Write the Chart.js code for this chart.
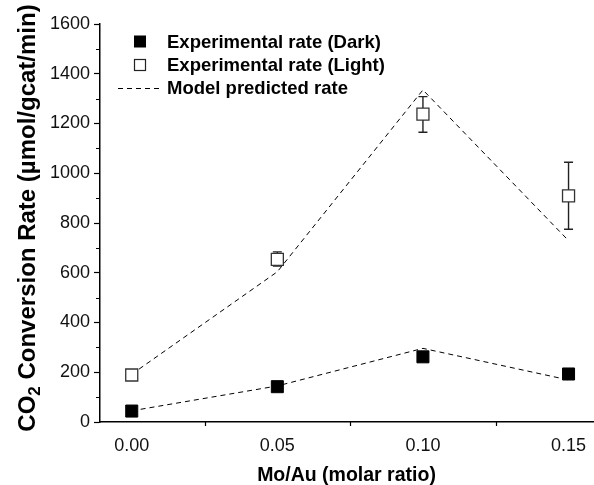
<!DOCTYPE html>
<html><head><meta charset="utf-8">
<script src="https://cdn.jsdelivr.net/npm/chart.js@4.4.1/dist/chart.umd.min.js"></script>
<style>html,body{margin:0;padding:0;background:#fff}</style>
</head><body>
<canvas id="c" width="594" height="485"></canvas>
<script>
// ---- data ----
const molarRatio   = [0.00, 0.05, 0.10, 0.15];
const darkRate     = [44, 142, 262, 193];
const lightRate    = [189, 654, 1238, 909];
const lightErrLow  = [179, 627, 1165, 775];
const lightErrHigh = [199, 684, 1308, 1044];
const modelLight   = [192, 604, 1335, 729];
const modelDark    = [45, 145, 296, 169];
const xTicks       = [0.00, 0.05, 0.10, 0.15];
const xMinorTicks  = [0.025, 0.075, 0.125];
const yTicks       = [0, 200, 400, 600, 800, 1000, 1200, 1400, 1600];
const yMinorTicks  = [100, 300, 500, 700, 900, 1100, 1300, 1500];
const legendLabels = ['Experimental rate (Dark)', 'Experimental rate (Light)', 'Model predicted rate'];
const xTitle = 'Mo/Au (molar ratio)';

const FONT = '"Liberation Sans", Arial, sans-serif';
const pts = ys => molarRatio.map((x, i) => ({x, y: ys[i]}));

// keep the plot area reaching the right edge (x axis runs to the border in the original)
const fixArea = {
  id: 'fixArea',
  afterLayout(chart) {
    const x = chart.scales.x;
    const target = chart.width - 1;
    if (x.right !== target) {
      x.right = target;
      x.width = target - x.left;
      chart.chartArea.right = target;
      chart.chartArea.width = target - chart.chartArea.left;
      x.configure();
    }
  }
};

const errorBars = {
  id: 'errorBars',
  beforeDatasetsDraw(chart) {
    const {ctx, scales: {x, y}} = chart;
    ctx.save();
    ctx.strokeStyle = '#222';
    ctx.lineWidth = 1.4;
    molarRatio.forEach((v, i) => {
      const px = x.getPixelForValue(v);
      const lo = y.getPixelForValue(lightErrLow[i]);
      const hi = y.getPixelForValue(lightErrHigh[i]);
      ctx.beginPath();
      ctx.moveTo(px, lo); ctx.lineTo(px, hi);
      ctx.moveTo(px - 4.5, lo); ctx.lineTo(px + 4.5, lo);
      ctx.moveTo(px - 4.5, hi); ctx.lineTo(px + 4.5, hi);
      ctx.stroke();
    });
    ctx.restore();
  }
};

const extras = {
  id: 'extras',
  afterDraw(chart) {
    const {ctx, scales: {x, y}, chartArea} = chart;
    ctx.save();
    // minor ticks
    ctx.strokeStyle = '#000';
    ctx.lineWidth = 1.2;
    ctx.beginPath();
    xMinorTicks.forEach(v => {
      const px = Math.round(x.getPixelForValue(v)) + 0.5;
      ctx.moveTo(px, chartArea.bottom); ctx.lineTo(px, chartArea.bottom + 4);
    });
    yMinorTicks.forEach(v => {
      const py = Math.round(y.getPixelForValue(v)) + 0.5;
      ctx.moveTo(chartArea.left, py); ctx.lineTo(chartArea.left - 4, py);
    });
    ctx.stroke();

    // y title with subscript
    ctx.fillStyle = '#000';
    const big = 'bold 24px ' + FONT, small = 'bold 17px ' + FONT;
    const p1 = 'CO', p2 = '2', p3 = ' Conversion Rate (\u00b5mol/gcat/min)';
    ctx.font = big; const w1 = ctx.measureText(p1).width, w3 = ctx.measureText(p3).width;
    ctx.font = small; const w2 = ctx.measureText(p2).width;
    const total = w1 + w2 + w3;
    ctx.translate(35, 218);
    ctx.rotate(-Math.PI / 2);
    ctx.textBaseline = 'alphabetic';
    ctx.textAlign = 'left';
    let cx = -total / 2;
    ctx.font = big; ctx.fillText(p1, cx, 0); cx += w1;
    ctx.font = small; ctx.fillText(p2, cx, 5); cx += w2;
    ctx.font = big; ctx.fillText(p3, cx, 0);
    ctx.setTransform(1, 0, 0, 1, 0, 0);

    // legend
    const rows = [41.5, 65, 87.5];
    const mx = 140, tx = 167;
    ctx.font = 'bold 18.5px ' + FONT;
    ctx.textBaseline = 'middle';
    ctx.textAlign = 'left';
    rows.forEach((ry, i) => {
      if (i === 0) {
        ctx.fillStyle = '#000';
        ctx.fillRect(mx - 6, ry - 6, 12, 12);
      } else if (i === 1) {
        ctx.fillStyle = '#fff';
        ctx.strokeStyle = '#222';
        ctx.lineWidth = 1.2;
        ctx.fillRect(mx - 6, ry - 6, 12, 12);
        ctx.strokeRect(mx - 5.5, ry - 5.5, 11, 11);
      } else {
        ctx.strokeStyle = '#000';
        ctx.lineWidth = 1;
        ctx.setLineDash([5, 4]);
        ctx.beginPath();
        ctx.moveTo(118, Math.round(ry) + 0.5); ctx.lineTo(162, Math.round(ry) + 0.5);
        ctx.stroke();
        ctx.setLineDash([]);
      }
      ctx.fillStyle = '#000';
      ctx.fillText(legendLabels[i], tx, ry + 1);
    });
    ctx.restore();
  }
};

new Chart(document.getElementById('c'), {
  type: 'scatter',
  data: {
    datasets: [
      {label: legendLabels[0], data: pts(darkRate), pointStyle: 'rect', pointRadius: 8.5,
       backgroundColor: '#000', borderColor: '#000', borderWidth: 1, showLine: false},
      {label: legendLabels[1], data: pts(lightRate), pointStyle: 'rect', pointRadius: 8.5,
       backgroundColor: '#fff', borderColor: '#333', borderWidth: 1.3, showLine: false},
      {label: legendLabels[2], data: pts(modelLight), showLine: true, pointRadius: 0,
       borderColor: '#000', borderWidth: 1, borderDash: [5, 4], tension: 0},
      {label: legendLabels[2], data: pts(modelDark), showLine: true, pointRadius: 0,
       borderColor: '#000', borderWidth: 1, borderDash: [5, 4], tension: 0}
    ]
  },
  options: {
    responsive: false,
    animation: false,
    devicePixelRatio: 1,
    layout: {padding: {top: 24, right: 1, left: 0, bottom: 0}},
    plugins: {legend: {display: false}, tooltip: {enabled: false}},
    scales: {
      x: {
        type: 'linear', min: -0.0109, max: 0.1584,
        afterBuildTicks: s => { s.ticks = xTicks.map(v => ({value: v})); },
        afterFit: s => { s.height = 63; s.paddingLeft = 0; s.paddingRight = 0; },
        grid: {drawOnChartArea: false, drawTicks: false},
        border: {color: '#000', width: 1.5},
        ticks: {padding: 13, color: '#111', font: {family: FONT, size: 18},
                callback: v => Number(v).toFixed(2), maxRotation: 0, autoSkip: false},
        title: {display: true, text: xTitle, color: '#000',
                font: {family: FONT, size: 19.5, weight: 'bold', lineHeight: 1}, padding: {top: 0, bottom: 0}}
      },
      y: {
        type: 'linear', min: 0, max: 1600,
        afterBuildTicks: s => { s.ticks = yTicks.map(v => ({value: v})); },
        afterFit: s => { s.width = 100; s.paddingTop = 0; s.paddingBottom = 0; },
        grid: {drawOnChartArea: false, tickLength: 6, tickColor: '#000', tickWidth: 1.2},
        border: {color: '#000', width: 1.5},
        ticks: {padding: 4, color: '#111', font: {family: FONT, size: 18}, autoSkip: false,
                callback: v => String(v)}
      }
    }
  },
  plugins: [fixArea, errorBars, extras]
});
</script>
</body></html>
